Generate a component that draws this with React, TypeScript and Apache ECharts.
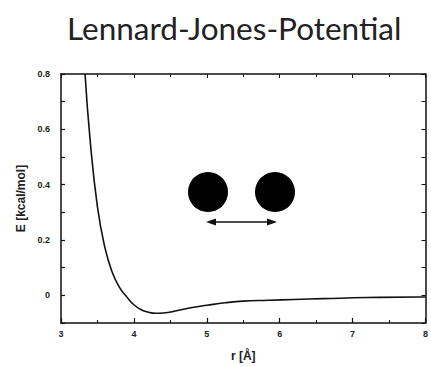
import React, { useEffect, useRef } from "react";
import * as echarts from "echarts";

// Pair separation r (Å) and interaction energy E (kcal/mol)
const rValues = [3.33, 3.4, 3.5, 3.6, 3.7, 3.8, 3.9, 4.0, 4.1, 4.2, 4.3, 4.4, 4.6, 4.8, 5.0, 5.25, 5.5, 5.85, 6.2, 6.6, 7.2, 7.9, 8.0];
const eValues = [0.8, 0.56, 0.32, 0.175, 0.085, 0.03, -0.005, -0.034, -0.052, -0.061, -0.065, -0.064, -0.055, -0.044, -0.036, -0.027, -0.021, -0.018, -0.015, -0.012, -0.008, -0.006, -0.006];

const xTicks = [3, 4, 5, 6, 7, 8];
const yTickLabels = [0, 0.2, 0.4, 0.6, 0.8];

const titleText = "Lennard-Jones-Potential";
const xName = "r [Å]";
const yName = "E [kcal/mol]";

export default function App() {
  const ref = useRef<HTMLDivElement>(null);

  useEffect(() => {
    if (!ref.current) return;
    const chart = echarts.init(ref.current, null, { renderer: "svg" });
    const ink = "#111";
    const labelFont = {
      fontFamily: "Liberation Sans, Arial, sans-serif",
      fontWeight: "bold" as const,
      fontSize: 9,
      color: "#222",
    };
    const showY = (v: number) =>
      yTickLabels.some((t) => Math.abs(t - v) < 1e-6) ? (Math.abs(v) < 1e-6 ? "0" : String(Math.round(v * 10) / 10)) : "";

    chart.setOption({
      animation: false,
      title: {
        text: titleText,
        left: 62,
        top: 7,
        textStyle: {
          fontFamily: "Lato, sans-serif",
          fontWeight: "normal",
          fontSize: 31.5,
          color: "#222",
        },
      },
      grid: { left: 61, right: 3, top: 74, bottom: 40 },
      xAxis: [
        {
          type: "value",
          min: 3,
          max: 8,
          interval: 1,
          name: xName,
          nameLocation: "middle",
          nameGap: 27,
          nameTextStyle: { ...labelFont, fontSize: 12, color: "#222" },
          axisLine: { onZero: false, lineStyle: { color: ink, width: 1.5 } },
          axisTick: { inside: true, length: 5, lineStyle: { color: ink, width: 1.2 } },
          minorTick: { show: true, splitNumber: 2, length: 3, lineStyle: { color: ink } },
          axisLabel: { ...labelFont, margin: 6, formatter: (v: number) => (xTicks.includes(v) ? String(v) : "") },
          splitLine: { show: false },
        },
        {
          type: "value",
          position: "top",
          min: 3,
          max: 8,
          interval: 1,
          axisLine: { onZero: false, lineStyle: { color: ink, width: 1.5 } },
          axisTick: { inside: true, length: 4, lineStyle: { color: ink } },
          minorTick: { show: true, splitNumber: 2, length: 3, lineStyle: { color: ink } },
          axisLabel: { show: false },
          splitLine: { show: false },
        },
      ],
      yAxis: [
        {
          type: "value",
          min: -0.1,
          max: 0.8,
          interval: 0.1,
          name: yName,
          nameLocation: "middle",
          nameGap: 33,
          nameRotate: 90,
          nameTextStyle: { ...labelFont, fontSize: 12, color: "#222" },
          axisLine: { onZero: false, lineStyle: { color: ink, width: 1.5 } },
          axisTick: { inside: true, length: 4, lineStyle: { color: ink, width: 1.2 } },
          axisLabel: { ...labelFont, margin: 11, formatter: showY },
          splitLine: { show: false },
        },
        {
          type: "value",
          position: "right",
          min: -0.1,
          max: 0.8,
          interval: 0.1,
          axisLine: { onZero: false, lineStyle: { color: ink, width: 1.5 } },
          axisTick: { inside: true, length: 4, lineStyle: { color: ink } },
          axisLabel: { show: false },
          splitLine: { show: false },
        },
      ],
      series: [
        {
          type: "line",
          data: rValues.map((r, i) => [r, eValues[i]]),
          smooth: 0.5,
          showSymbol: false,
          lineStyle: { color: ink, width: 1.6 },
        },
      ],
      graphic: [
        { type: "circle", shape: { cx: 208, cy: 192, r: 20 }, style: { fill: "#000" } },
        { type: "circle", shape: { cx: 275, cy: 192, r: 20 }, style: { fill: "#000" } },
        { type: "line", shape: { x1: 212, y1: 222, x2: 271, y2: 222 }, style: { stroke: "#111", lineWidth: 1.6 } },
        { type: "polygon", shape: { points: [[206, 222], [216, 218.5], [216, 225.5]] }, style: { fill: "#111" } },
        { type: "polygon", shape: { points: [[277, 222], [267, 218.5], [267, 225.5]] }, style: { fill: "#111" } },
      ],
    });
    return () => chart.dispose();
  }, []);

  return <div ref={ref} style={{ width: 431, height: 367, position: "absolute", left: 0, top: 0 }} />;
}
